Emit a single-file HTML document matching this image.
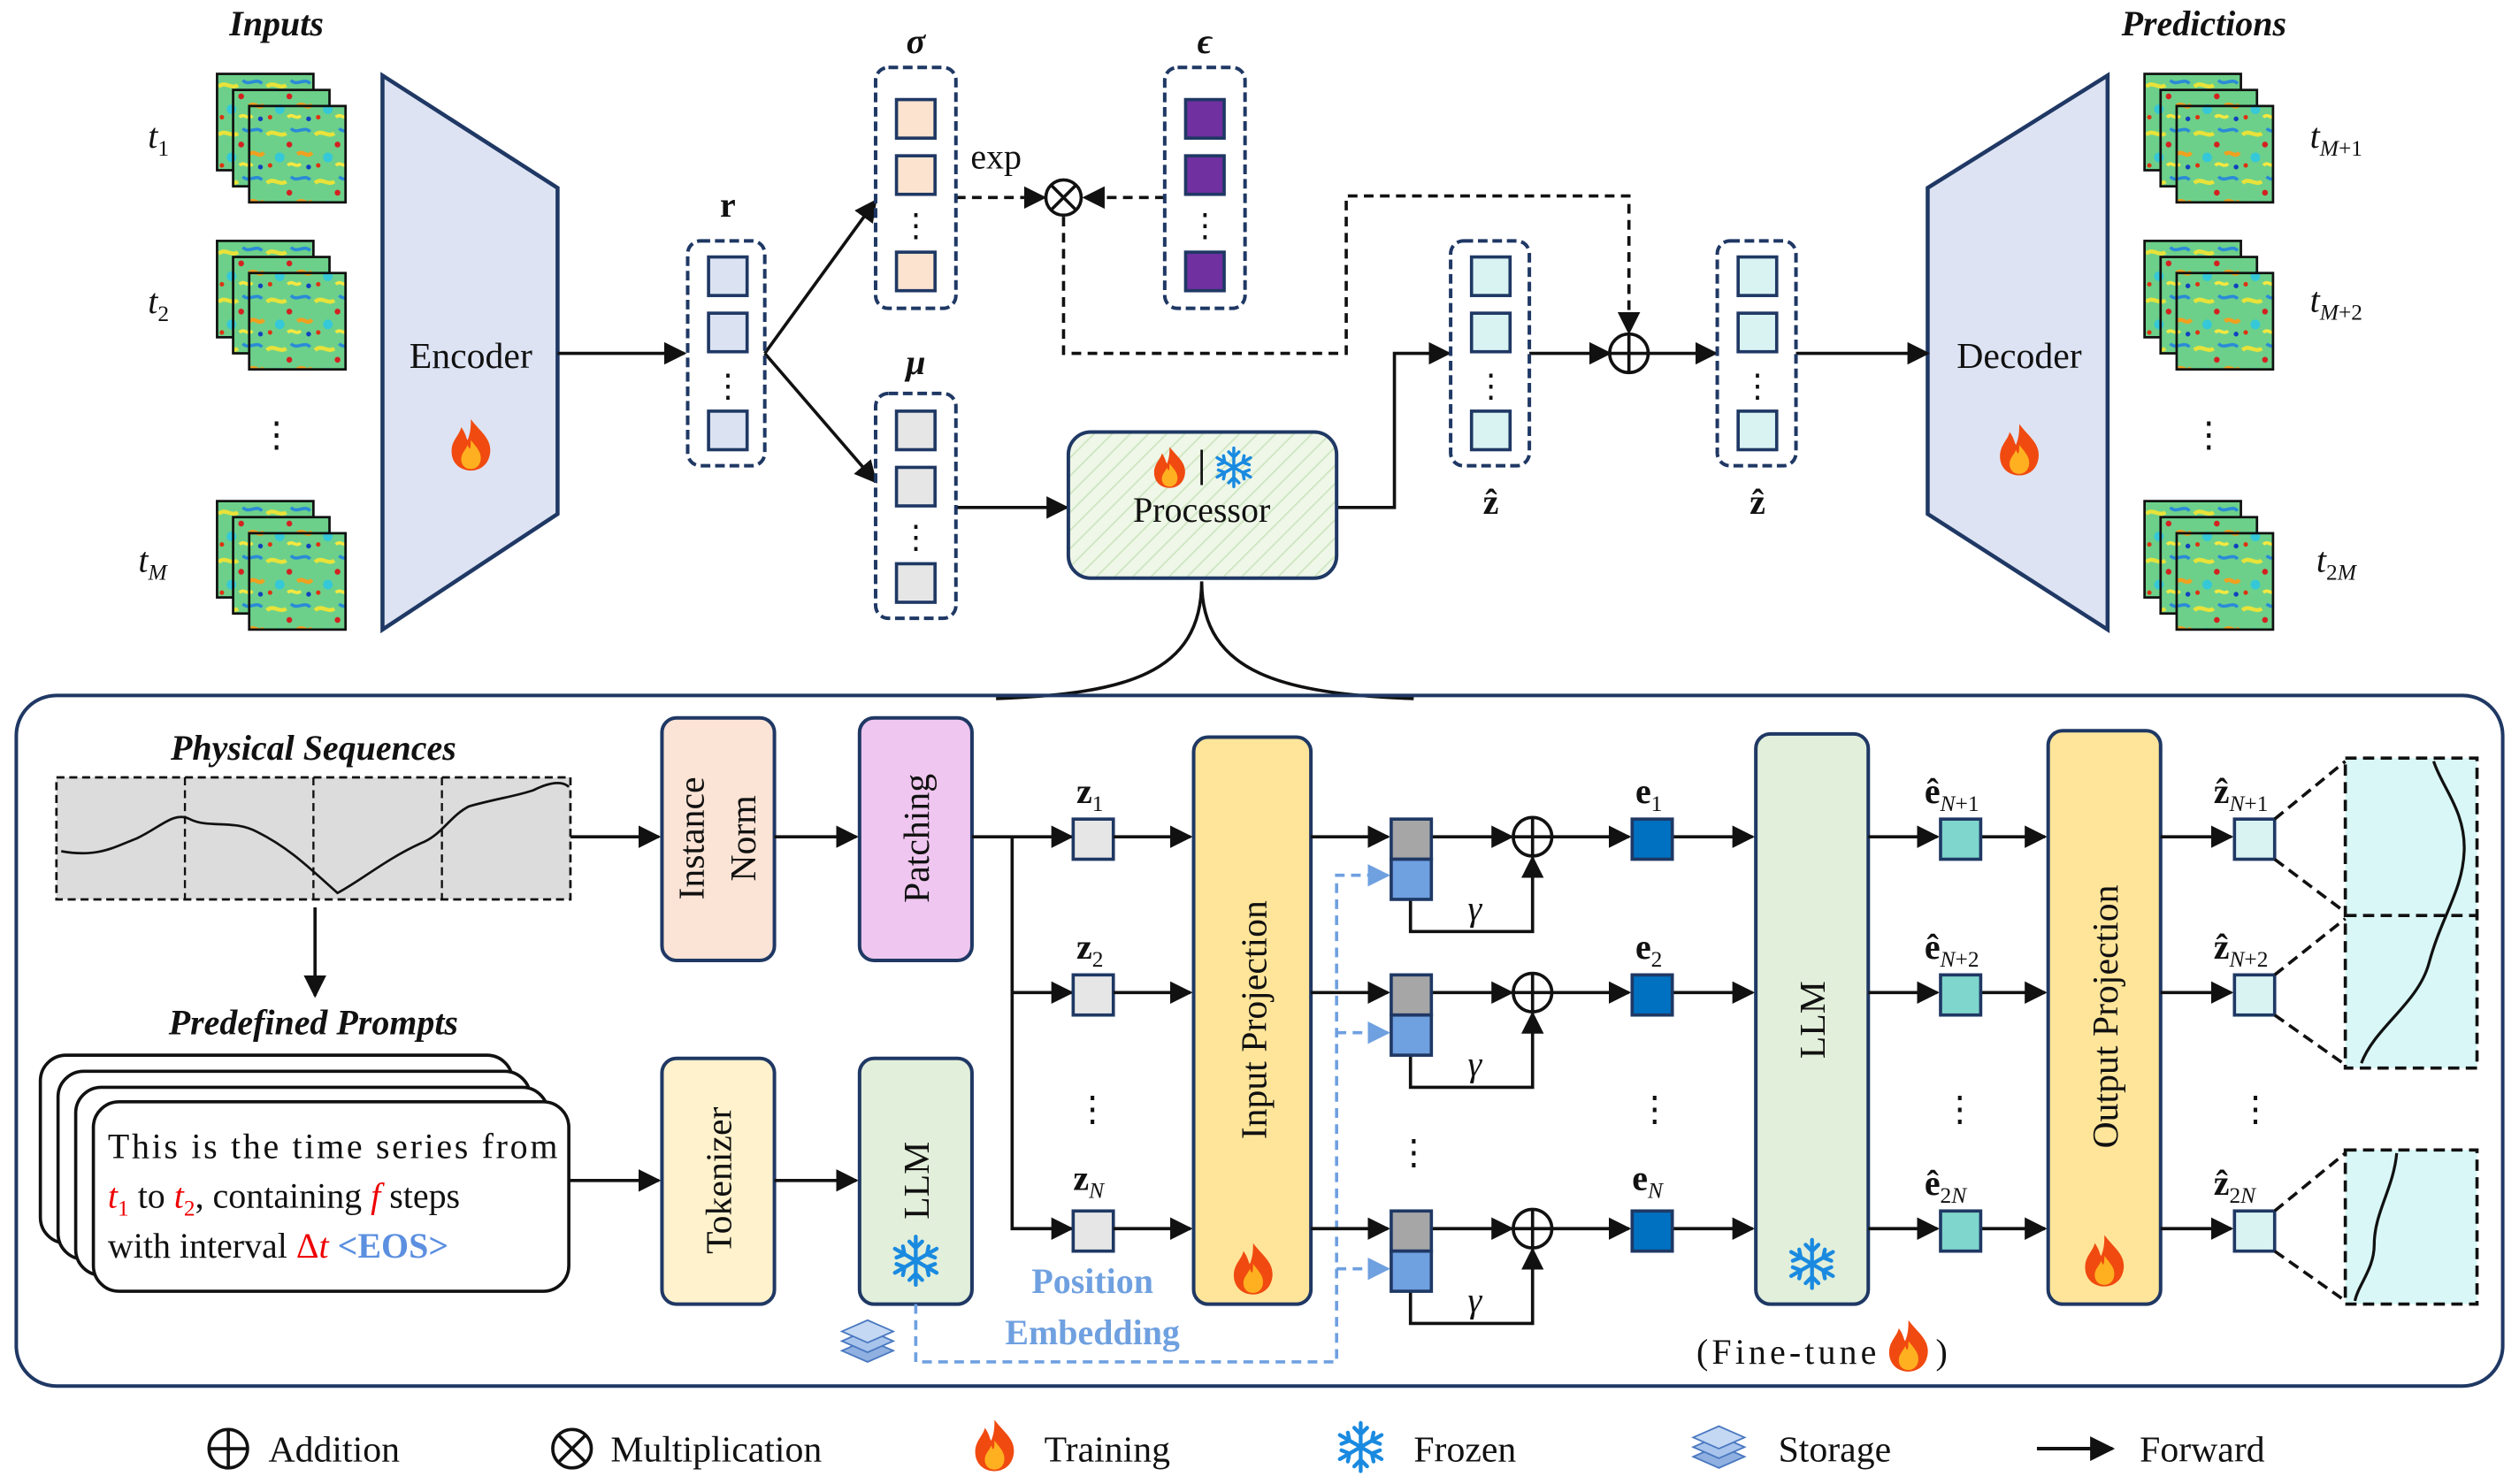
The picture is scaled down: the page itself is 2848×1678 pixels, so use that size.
<!DOCTYPE html>
<html><head><meta charset="utf-8"><style>
html,body{margin:0;padding:0;background:#fff;}
svg{display:block;}
text{font-family:"Liberation Serif",serif;fill:#111;}
</style></head><body>
<svg width="2848" height="1678" viewBox="0 0 1568 924" xmlns="http://www.w3.org/2000/svg">
<defs>
<marker id="ah" viewBox="0 0 10 10" refX="9" refY="5" markerWidth="7" markerHeight="7" orient="auto"><path d="M0,0 L10,5 L0,10 z" fill="#111"/></marker>
<marker id="ahb" viewBox="0 0 10 10" refX="9" refY="5" markerWidth="7" markerHeight="7" orient="auto"><path d="M0,0 L10,5 L0,10 z" fill="#6fa0e0"/></marker>
<pattern id="heat" width="30" height="30" patternUnits="userSpaceOnUse">
<rect width="30" height="30" fill="#6cd08a"/>
<path d="M1,8 C5,4 9,10 13,7" stroke="#e8e23a" stroke-width="2.5" fill="none"/>
<path d="M16,4 C20,8 24,2 28,6" stroke="#2a8ad8" stroke-width="2" fill="none"/>
<path d="M20,20 C24,17 26,23 29,19" stroke="#f0a020" stroke-width="2.5" fill="none"/>
<ellipse cx="9" cy="22" rx="3" ry="3" fill="#35c8d8"/>
<circle cx="15" cy="14" r="1.8" fill="#d42020"/>
<circle cx="27" cy="28" r="1.5" fill="#1040c0"/>
<circle cx="3" cy="27" r="1.4" fill="#e03010"/>
<path d="M14,27 C17,24 19,29 22,26" stroke="#f6e840" stroke-width="2" fill="none"/>
</pattern>
<pattern id="hatch" width="8" height="8" patternUnits="userSpaceOnUse" patternTransform="rotate(45)">
<rect width="8" height="8" fill="#eef7e8"/><line x1="0" y1="0" x2="0" y2="8" stroke="#cfe6c2" stroke-width="2"/>
</pattern>
<g id="fire">
<path d="M0,-16 C6,-8 13,-4 12,5 C11,13 5,16 0,16 C-6,16 -12,12 -12,4 C-12,-3 -7,-6 -6,-11 C-3,-7 -3,-4 -2,-3 C0,-8 0,-12 0,-16 z" fill="#f04a10"/>
<path d="M0,-3 C4,2 7,5 6,10 C5,14 2,15 0,15 C-4,15 -6,12 -6,9 C-6,5 -3,3 -2,0 C-1,3 0,4 0,-3 z" fill="#ffb020"/>
</g>
<g id="snow" stroke="#1a8ae0" stroke-width="2.4" stroke-linecap="round">
<line x1="0" y1="-15" x2="0" y2="15"/><line x1="-13" y1="-7.5" x2="13" y2="7.5"/><line x1="-13" y1="7.5" x2="13" y2="-7.5"/>
<path d="M-4,-12 L0,-8 L4,-12 M-4,12 L0,8 L4,12" fill="none"/>
<path d="M-12,-2 L-7,-4 L-8,-9 M12,2 L7,4 L8,9 M12,-2 L7,-4 L8,-9 M-12,2 L-7,4 L-8,9" fill="none"/>
</g>
<g id="stor">
<path d="M-16,6 L0,13 L16,6 L0,-1 z" fill="#8fb0e0" stroke="#4a78c0"/>
<path d="M-16,0 L0,7 L16,0 L0,-7 z" fill="#a8c4ec" stroke="#4a78c0"/>
<path d="M-16,-6 L0,1 L16,-6 L0,-13 z" fill="#c4d8f4" stroke="#4a78c0"/>
</g>
<g id="stack">
<rect x="0" y="0" width="60" height="60" fill="url(#heat)" stroke="#111" stroke-width="1.5"/>
<rect x="10" y="10" width="60" height="60" fill="url(#heat)" stroke="#111" stroke-width="1.5"/>
<rect x="20" y="20" width="60" height="60" fill="url(#heat)" stroke="#111" stroke-width="1.5"/>
</g>
</defs>

<text x="172" y="22" font-size="22" font-weight="bold" font-style="italic" text-anchor="middle">Inputs</text>
<text x="1372" y="22" font-size="22" font-weight="bold" font-style="italic" text-anchor="middle">Predictions</text>
<g font-size="22" font-style="italic">
<text x="92" y="92">t<tspan font-size="14" dy="5" font-style="normal">1</tspan></text>
<text x="92" y="195">t<tspan font-size="14" dy="5" font-style="normal">2</tspan></text>
<text x="86" y="356">t<tspan font-size="14" dy="5">M</tspan></text>
<text x="1438" y="92">t<tspan font-size="14" dy="5">M</tspan><tspan font-size="14" font-style="normal">+1</tspan></text>
<text x="1438" y="194">t<tspan font-size="14" dy="5">M</tspan><tspan font-size="14" font-style="normal">+2</tspan></text>
<text x="1442" y="356">t<tspan font-size="14" dy="5" font-style="normal">2</tspan><tspan font-size="14">M</tspan></text>
</g>
<text x="172" y="278" font-size="22" text-anchor="middle">⋮</text>
<text x="1375" y="278" font-size="22" text-anchor="middle">⋮</text>
<use href="#stack" x="135" y="46"/><use href="#stack" x="135" y="150"/><use href="#stack" x="135" y="312"/>
<use href="#stack" x="1335" y="46"/><use href="#stack" x="1335" y="150"/><use href="#stack" x="1335" y="312"/>

<polygon points="238,47 347,117 347,320 238,392" fill="#dde3f3" stroke="#1f3864" stroke-width="2.5"/>
<text x="293" y="229" font-size="23" text-anchor="middle">Encoder</text>
<use href="#fire" x="293" y="277"/>
<polygon points="1200,117 1312,47 1312,392 1200,320" fill="#dde3f3" stroke="#1f3864" stroke-width="2.5"/>
<text x="1257" y="229" font-size="23" text-anchor="middle">Decoder</text>
<use href="#fire" x="1257" y="280"/>

<g stroke="#111" stroke-width="2" fill="none">
<line x1="347" y1="220" x2="426" y2="220" marker-end="url(#ah)"/>
<line x1="476" y1="220" x2="545" y2="125" marker-end="url(#ah)"/>
<line x1="476" y1="220" x2="545" y2="300" marker-end="url(#ah)"/>
<line x1="595" y1="316" x2="664" y2="316" marker-end="url(#ah)"/>
<polyline points="832,316 868,316 868,220 902,220" marker-end="url(#ah)"/>
<line x1="952" y1="220" x2="1002" y2="220" marker-end="url(#ah)"/>
<line x1="1026" y1="220" x2="1068" y2="220" marker-end="url(#ah)"/>
<line x1="1118" y1="220" x2="1200" y2="220" marker-end="url(#ah)"/>
</g>
<g stroke="#111" stroke-width="2" fill="none" stroke-dasharray="6,4">
<line x1="595" y1="123" x2="650" y2="123" marker-end="url(#ah)"/>
<line x1="725" y1="123" x2="675" y2="123" marker-end="url(#ah)"/>
<polyline points="662,135 662,220 838,220 838,122 1014,122 1014,207" marker-end="url(#ah)"/>
</g>
<text x="620" y="105" font-size="22" text-anchor="middle">exp</text>
<circle cx="662" cy="123" r="11" fill="#fff" stroke="#111" stroke-width="2"/>
<path d="M654,115 L670,131 M670,115 L654,131" stroke="#111" stroke-width="2"/>
<circle cx="1014" cy="220" r="12" fill="#fff" stroke="#111" stroke-width="2"/>
<path d="M1002,220 H1026 M1014,208 V232" stroke="#111" stroke-width="2"/>

<g stroke="#1f3864" stroke-width="2.2" stroke-dasharray="6,3" fill="none">
<rect x="428" y="150" width="48" height="140" rx="8"/>
<rect x="545" y="42" width="50" height="150" rx="8"/>
<rect x="545" y="245" width="50" height="140" rx="8"/>
<rect x="725" y="42" width="50" height="150" rx="8"/>
<rect x="903" y="150" width="49" height="140" rx="8"/>
<rect x="1069" y="150" width="49" height="140" rx="8"/>
</g>
<g stroke="#1f3864" stroke-width="2">
<rect x="441" y="160" width="24" height="24" fill="#dbe3f3"/><rect x="441" y="195" width="24" height="24" fill="#dbe3f3"/><rect x="441" y="256" width="24" height="24" fill="#dbe3f3"/>
<rect x="558" y="62" width="24" height="24" fill="#fbe3cf"/><rect x="558" y="97" width="24" height="24" fill="#fbe3cf"/><rect x="558" y="157" width="24" height="24" fill="#fbe3cf"/>
<rect x="558" y="256" width="24" height="24" fill="#e6e6e6"/><rect x="558" y="291" width="24" height="24" fill="#e6e6e6"/><rect x="558" y="351" width="24" height="24" fill="#e6e6e6"/>
<rect x="738" y="62" width="24" height="24" fill="#7030a0"/><rect x="738" y="97" width="24" height="24" fill="#7030a0"/><rect x="738" y="157" width="24" height="24" fill="#7030a0"/>
<rect x="916" y="160" width="24" height="24" fill="#d9f3f3"/><rect x="916" y="195" width="24" height="24" fill="#d9f3f3"/><rect x="916" y="256" width="24" height="24" fill="#d9f3f3"/>
<rect x="1082" y="160" width="24" height="24" fill="#d9f3f3"/><rect x="1082" y="195" width="24" height="24" fill="#d9f3f3"/><rect x="1082" y="256" width="24" height="24" fill="#d9f3f3"/>
</g>
<g font-size="20" text-anchor="middle">
<text x="453" y="247">⋮</text><text x="570" y="147">⋮</text><text x="570" y="341">⋮</text><text x="750" y="147">⋮</text><text x="928" y="247">⋮</text><text x="1094" y="247">⋮</text>
</g>
<text x="453" y="135" font-size="22" font-weight="bold" text-anchor="middle">r</text>
<text x="570" y="33" font-size="22" font-weight="bold" font-style="italic" text-anchor="middle">σ</text>
<text x="570" y="233" font-size="22" font-weight="bold" font-style="italic" text-anchor="middle">μ</text>
<text x="750" y="33" font-size="22" font-weight="bold" font-style="italic" text-anchor="middle">ϵ</text>
<text x="928" y="320" font-size="22" font-weight="bold" text-anchor="middle">ẑ</text>
<text x="1094" y="320" font-size="22" font-weight="bold" text-anchor="middle">ẑ</text>

<rect x="665" y="269" width="167" height="91" rx="14" fill="url(#hatch)" stroke="#1f3864" stroke-width="2.2"/>
<use href="#fire" transform="translate(728,291) scale(0.8)"/>
<line x1="748" y1="280" x2="748" y2="302" stroke="#111" stroke-width="1.5"/>
<use href="#snow" transform="translate(768,291) scale(0.8)"/>
<text x="748" y="325" font-size="22" text-anchor="middle">Processor</text>
<path d="M748,362 C748,420 700,432 620,435 M748,362 C748,420 800,432 880,435" stroke="#111" stroke-width="2" fill="none"/>

<rect x="10" y="433" width="1548" height="430" rx="25" fill="none" stroke="#1f3864" stroke-width="2.2"/>
<text x="195" y="473" font-size="22" font-weight="bold" font-style="italic" text-anchor="middle">Physical Sequences</text>
<rect x="35" y="484" width="320" height="76" fill="#dcdcdc" stroke="#111" stroke-width="1.5" stroke-dasharray="5,3"/>
<path d="M115,484 V560 M195,484 V560 M275,484 V560" stroke="#111" stroke-width="1.3" stroke-dasharray="5,3"/>
<path d="M38,530 C60,534 70,528 85,522 C100,515 108,505 118,510 C130,516 145,510 160,518 C180,528 192,540 210,556 C225,548 240,535 262,525 C275,520 280,508 292,502 C310,497 320,496 332,492 C342,487 350,486 354,490" stroke="#111" stroke-width="1.5" fill="none"/>
<line x1="196" y1="565" x2="196" y2="620" stroke="#111" stroke-width="2" marker-end="url(#ah)"/>
<text x="195" y="644" font-size="22" font-weight="bold" font-style="italic" text-anchor="middle">Predefined Prompts</text>
<g fill="#fff" stroke="#111" stroke-width="2">
<rect x="25" y="657" width="294" height="117" rx="16"/>
<rect x="36" y="667" width="294" height="117" rx="16"/>
<rect x="47" y="677" width="294" height="117" rx="16"/>
<rect x="58" y="686" width="296" height="118" rx="16"/>
</g>
<g font-size="22">
<text x="67" y="721" textLength="280">This is the time series from</text>
<text x="67" y="752"><tspan font-style="italic" style="fill:#e00">t</tspan><tspan font-size="14" dy="5" style="fill:#e00">1</tspan><tspan dy="-5">  to  </tspan><tspan font-style="italic" style="fill:#e00">t</tspan><tspan font-size="14" dy="5" style="fill:#e00">2</tspan><tspan dy="-5">,  containing  </tspan><tspan font-style="italic" style="fill:#e00">f</tspan>  steps</text>
<text x="67" y="783">with interval <tspan style="fill:#e00">Δ</tspan><tspan font-style="italic" style="fill:#e00">t</tspan>  <tspan font-weight="bold" style="fill:#5b8fe0">&lt;EOS&gt;</tspan></text>
</g>

<g stroke="#1f3864" stroke-width="2.2">
<rect x="412" y="447" width="70" height="151" rx="9" fill="#fbe3d5"/>
<rect x="535" y="447" width="70" height="151" rx="9" fill="#efc6ef"/>
<rect x="412" y="659" width="70" height="153" rx="9" fill="#fff2cc"/>
<rect x="535" y="659" width="70" height="153" rx="9" fill="#e2efda"/>
<rect x="743" y="459" width="73" height="353" rx="9" fill="#ffe59a"/>
<rect x="1093" y="457" width="70" height="355" rx="9" fill="#e2efda"/>
<rect x="1275" y="455" width="70" height="357" rx="9" fill="#ffe59a"/>
</g>
<g font-size="23" text-anchor="middle">
<text transform="translate(438,522) rotate(-90)">Instance</text>
<text transform="translate(470,522) rotate(-90)">Norm</text>
<text transform="translate(578,522) rotate(-90)">Patching</text>
<text transform="translate(455,735) rotate(-90)">Tokenizer</text>
<text transform="translate(578,735) rotate(-90)">LLM</text>
<text transform="translate(788,635) rotate(-90)">Input  Projection</text>
<text transform="translate(1136,635) rotate(-90)">LLM</text>
<text transform="translate(1318,633) rotate(-90)">Output  Projection</text>
</g>
<use href="#snow" x="570" y="785"/>
<use href="#fire" x="780" y="790"/>
<use href="#snow" x="1128" y="787"/>
<use href="#fire" x="1310" y="785"/>
<use href="#stor" x="540" y="835"/>

<g stroke="#111" stroke-width="2" fill="none">
<line x1="355" y1="521" x2="410" y2="521" marker-end="url(#ah)"/>
<line x1="482" y1="521" x2="533" y2="521" marker-end="url(#ah)"/>
<line x1="354" y1="735" x2="410" y2="735" marker-end="url(#ah)"/>
<line x1="482" y1="735" x2="533" y2="735" marker-end="url(#ah)"/>
<polyline points="605,521 667,521" marker-end="url(#ah)"/>
<polyline points="630,521 630,765 667,765" marker-end="url(#ah)"/>
<polyline points="630,618 667,618" marker-end="url(#ah)"/>
</g>
<g stroke="#6fa0e0" stroke-width="2" fill="none" stroke-dasharray="6,4">
<polyline points="570,812 570,848 832,848 832,545 864,545" marker-end="url(#ahb)"/>
<line x1="832" y1="643" x2="864" y2="643" marker-end="url(#ahb)"/>
<line x1="832" y1="790" x2="864" y2="790" marker-end="url(#ahb)"/>
</g>
<text x="680" y="805" font-size="22" font-weight="bold" text-anchor="middle" style="fill:#6fa0e0">Position</text>
<text x="680" y="837" font-size="22" font-weight="bold" text-anchor="middle" style="fill:#6fa0e0">Embedding</text>

<g id="row1">
<rect x="668" y="510" width="25" height="25" fill="#e6e6e6" stroke="#1f3864" stroke-width="2"/>
<g stroke="#111" stroke-width="2" fill="none">
<line x1="693" y1="521" x2="741" y2="521" marker-end="url(#ah)"/>
<line x1="816" y1="521" x2="864" y2="521" marker-end="url(#ah)"/>
<line x1="891" y1="521" x2="941" y2="521" marker-end="url(#ah)"/>
<polyline points="878,560 878,580 954,580 954,534" marker-end="url(#ah)"/>
<line x1="966" y1="521" x2="1014" y2="521" marker-end="url(#ah)"/>
<line x1="1041" y1="521" x2="1091" y2="521" marker-end="url(#ah)"/>
<line x1="1163" y1="521" x2="1206" y2="521" marker-end="url(#ah)"/>
<line x1="1233" y1="521" x2="1273" y2="521" marker-end="url(#ah)"/>
<line x1="1345" y1="521" x2="1389" y2="521" marker-end="url(#ah)"/>
</g>
<rect x="866" y="510" width="25" height="25" fill="#a6a6a6" stroke="#1f3864" stroke-width="2"/>
<rect x="866" y="535" width="25" height="25" fill="#6fa0e0" stroke="#1f3864" stroke-width="2"/>
<circle cx="954" cy="521" r="12" fill="#fff" stroke="#111" stroke-width="2"/>
<path d="M942,521 H966 M954,509 V533" stroke="#111" stroke-width="2"/>
<text x="918" y="573" font-size="22" font-style="italic" text-anchor="middle">γ</text>
<rect x="1016" y="510" width="25" height="25" fill="#0070c0" stroke="#1f3864" stroke-width="2"/>
<rect x="1208" y="510" width="25" height="25" fill="#7fd6cc" stroke="#1f3864" stroke-width="2"/>
<rect x="1391" y="510" width="25" height="25" fill="#d9f3f3" stroke="#1f3864" stroke-width="2"/>
</g>
<use href="#row1" y="97"/>
<use href="#row1" y="244"/>

<g font-size="22" font-weight="bold">
<text x="670" y="500">z<tspan font-size="14" font-weight="normal" dy="5">1</tspan></text>
<text x="670" y="597">z<tspan font-size="14" font-weight="normal" dy="5">2</tspan></text>
<text x="668" y="741">z<tspan font-size="14" font-weight="normal" font-style="italic" dy="5">N</tspan></text>
<text x="1018" y="500">e<tspan font-size="14" font-weight="normal" dy="5">1</tspan></text>
<text x="1018" y="597">e<tspan font-size="14" font-weight="normal" dy="5">2</tspan></text>
<text x="1016" y="741">e<tspan font-size="14" font-weight="normal" font-style="italic" dy="5">N</tspan></text>
<text x="1198" y="500">ê<tspan font-size="14" font-weight="normal" dy="5"><tspan font-style="italic">N</tspan>+1</tspan></text>
<text x="1198" y="597">ê<tspan font-size="14" font-weight="normal" dy="5"><tspan font-style="italic">N</tspan>+2</tspan></text>
<text x="1198" y="744">ê<tspan font-size="14" font-weight="normal" dy="5">2<tspan font-style="italic">N</tspan></tspan></text>
<text x="1378" y="500">ẑ<tspan font-size="14" font-weight="normal" dy="5"><tspan font-style="italic">N</tspan>+1</tspan></text>
<text x="1378" y="597">ẑ<tspan font-size="14" font-weight="normal" dy="5"><tspan font-style="italic">N</tspan>+2</tspan></text>
<text x="1378" y="744">ẑ<tspan font-size="14" font-weight="normal" dy="5">2<tspan font-style="italic">N</tspan></tspan></text>
</g>
<g font-size="22" text-anchor="middle">
<text x="680" y="698">⋮</text><text x="880" y="725">⋮</text><text x="1030" y="698">⋮</text><text x="1220" y="698">⋮</text><text x="1404" y="698">⋮</text>
</g>

<rect x="1460" y="472" width="82" height="193" fill="#d9f7f7" stroke="#111" stroke-width="2" stroke-dasharray="7,4"/>
<line x1="1460" y1="570" x2="1542" y2="570" stroke="#111" stroke-width="2" stroke-dasharray="7,4"/>
<rect x="1460" y="716" width="82" height="96" fill="#d9f7f7" stroke="#111" stroke-width="2" stroke-dasharray="7,4"/>
<path d="M1515,474 C1520,490 1535,505 1534,530 C1533,555 1520,570 1512,600 C1505,625 1478,640 1470,662" stroke="#111" stroke-width="1.8" fill="none"/>
<path d="M1492,718 C1490,740 1478,755 1478,775 C1478,790 1468,800 1466,810" stroke="#111" stroke-width="1.8" fill="none"/>
<g stroke="#111" stroke-width="2" stroke-dasharray="7,4">
<line x1="1416" y1="510" x2="1460" y2="474"/><line x1="1416" y1="535" x2="1460" y2="568"/>
<line x1="1416" y1="607" x2="1460" y2="572"/><line x1="1416" y1="632" x2="1460" y2="663"/>
<line x1="1416" y1="754" x2="1460" y2="718"/><line x1="1416" y1="779" x2="1460" y2="810"/>
</g>

<text x="1056" y="849" font-size="22" textLength="112">(Fine-tune</text>
<use href="#fire" x="1188" y="838"/>
<text x="1205" y="849" font-size="22">)</text>

<circle cx="142" cy="902" r="12" fill="#fff" stroke="#111" stroke-width="2"/>
<path d="M130,902 H154 M142,890 V914" stroke="#111" stroke-width="2"/>
<text x="167" y="910" font-size="23">Addition</text>
<circle cx="356" cy="902" r="12" fill="#fff" stroke="#111" stroke-width="2"/>
<path d="M348,894 L364,910 M364,894 L348,910" stroke="#111" stroke-width="2"/>
<text x="380" y="910" font-size="23">Multiplication</text>
<use href="#fire" x="619" y="900"/>
<text x="650" y="910" font-size="23">Training</text>
<use href="#snow" x="847" y="901"/>
<text x="880" y="910" font-size="23">Frozen</text>
<use href="#stor" x="1070" y="901"/>
<text x="1107" y="910" font-size="23">Storage</text>
<line x1="1268" y1="902" x2="1315" y2="902" stroke="#111" stroke-width="2.2" marker-end="url(#ah)"/>
<text x="1332" y="910" font-size="23">Forward</text>
</svg>
</body></html>
